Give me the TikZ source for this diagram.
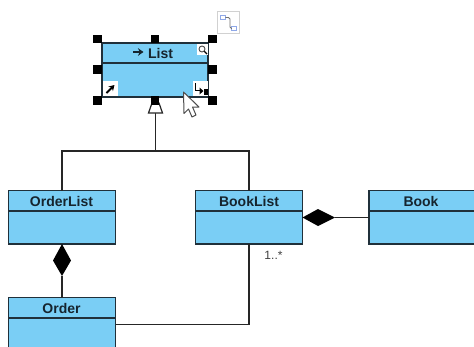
\documentclass[tikz,border=0pt]{standalone}
\usepackage{fontspec}
\setmainfont{Liberation Sans}
\usetikzlibrary{calc,arrows.meta}
\definecolor{classfill}{HTML}{7ACEF5}
\definecolor{classline}{HTML}{20303A}
\definecolor{classtext}{HTML}{16242E}
\definecolor{iconblue}{HTML}{8FA8E8}
\tikzset{
  classbox/.style={draw=classline,fill=classfill,line width=1.2pt,outer sep=0pt,anchor=north west,inner sep=0pt,minimum width=#1},
  classbox/.default=107pt,
  divider/.style={draw=classline,line width=1.1pt},
  title/.style={font=\bfseries\fontsize{14}{14}\selectfont,text=classtext,inner sep=0pt,anchor=center},
  conn/.style={draw=black!85,line width=1.1pt},
  handle/.style={fill=black,draw=none,minimum size=8.5pt,inner sep=0pt,outer sep=0pt},
  iconbox/.style={fill=white,draw=none,inner sep=0pt,outer sep=0pt,anchor=north west},
  cdiamond/.style={fill=black,draw=none},
  marker/.style={draw=iconblue,fill=white,line width=0.9pt,minimum size=4.5pt,inner sep=0pt,outer sep=0pt},
}
\begin{document}
\begin{tikzpicture}[x=1pt,y=-1pt]
\clip (0,0) rectangle (474,346);
\fill[white] (0,0) rectangle (474,346);

% classes
\node[classbox=106pt,minimum height=54pt] (list) at (102,43) {};
\node[classbox,minimum height=53.5pt] (orderlist) at (8.5,190.5) {};
\node[classbox,minimum height=53.5pt] (booklist) at (195.5,190.5) {};
\node[classbox,minimum height=53.5pt] (book) at (369,190.5) {};
\node[classbox,minimum height=80pt] (order) at (8.5,297.5) {};

\draw[divider] (list.west |- 0,63) -- (list.east |- 0,63);
\draw[divider] (orderlist.west |- 0,211) -- (orderlist.east |- 0,211);
\draw[divider] (booklist.west |- 0,211) -- (booklist.east |- 0,211);
\draw[divider] (book.west |- 0,211) -- (book.east |- 0,211);
\draw[divider] (order.west |- 0,318) -- (order.east |- 0,318);

\node[title] (tlist) at (160.5,53.5) {List};
\node[title] (torderlist) at (61.5,201) {OrderList};
\node[title] (tbooklist) at (249,201) {BookList};
\node[title] (tbook) at (421,201) {Book};
\node[title] (torder) at (61.5,308) {Order};

% generalization
\coordinate (genbase) at (155.9,113);
\coordinate (junction) at (155.9,151);
\draw[conn] (genbase) -- (junction);
\draw[conn] (junction) -| (orderlist.north);
\draw[conn] (junction) -| (booklist.north);
\draw[conn,fill=white,line join=miter,line width=1.2pt] (148.5,113) -- (152,103) -- (159,103) -- (162.5,113) -- cycle;

% composition OrderList - Order
\coordinate (d1tip) at (orderlist.south |- 0,276);
\draw[conn] (d1tip) -- (order.north);
\fill[cdiamond] (orderlist.south) -- (71,260.5) -- (d1tip) -- (53,260.5) -- cycle;

% composition BookList - Book
\coordinate (d2tip) at (335,217.5);
\draw[conn] (d2tip) -- (book.west |- d2tip);
\fill[cdiamond] (booklist.east |- d2tip) -- (318,209) -- (d2tip) -- (318,226) -- cycle;

% association Order - BookList
\coordinate (assocstart) at (order.east |- 0,324.2);
\draw[conn] (assocstart) -| (booklist.south);
\node[font=\fontsize{12}{12}\selectfont,text=black!75,inner sep=0pt] (mult) at (273.5,255) {1..*};

% selection handles
\node[handle] (h1) at (97.5,39) {};
\node[handle] (h2) at (155,39) {};
\node[handle] (h3) at (212.5,39) {};
\node[handle] (h4) at (97.5,69.5) {};
\node[handle] (h5) at (212.5,69.5) {};
\node[handle] (h6) at (97.5,100.5) {};
\node[handle] (h7) at (155,100.5) {};
\node[handle] (h8) at (212.5,100.5) {};

% arrow in front of List
\draw[line width=1.8pt,-{Stealth[length=5.5pt,width=7.5pt]},classtext] (133,52) -- (143.5,52);

% resource icons
\node[iconbox,minimum size=11pt] (iconzoom) at (197,43.5) {};
\draw[black!70,line width=0.9pt] (202,49) circle (3pt);
\draw[black,line width=1.2pt] (204.3,51.3) -- (207,54);

\node[iconbox,minimum size=15pt] (iconne) at (102.5,81) {};
\draw[black,line width=1.8pt,-{Stealth[length=5.5pt,width=6.5pt]}] (106.5,93) -- (114.5,85);

\node[iconbox,minimum size=15pt] (iconse) at (193,81) {};
\draw[black,line width=1.1pt] (195.5,83) -- (195.5,90.5) -- (200,90.5);
\fill[black] (199.5,87.5) -- (203.5,91) -- (199.5,94.5) -- cycle;
\fill[black] (203.5,88.5) rectangle (207.5,94.5);

% cursor
\draw[fill=white,draw=black!70,line width=1pt,line join=round]
  (183.5,92) -- (199,107) -- (192.5,107) -- (196,115) -- (192,117) -- (188.5,109) -- (184,113.5) -- cycle;

% top-right path icon
\node[draw=black!18,fill=white,line width=1pt,minimum size=22.5pt,inner sep=0pt,outer sep=0pt] (pathicon) at (228.5,22.5) {};
\node[marker] (pa) at (223,17.5) {};
\node[marker] (pb) at (234,28.5) {};
\draw[black!55,line width=0.8pt,rounded corners=1.5pt] (pa.east) -- (230,17.5) -- (230,28.5) -- (pb.west);
\end{tikzpicture}
\end{document}
